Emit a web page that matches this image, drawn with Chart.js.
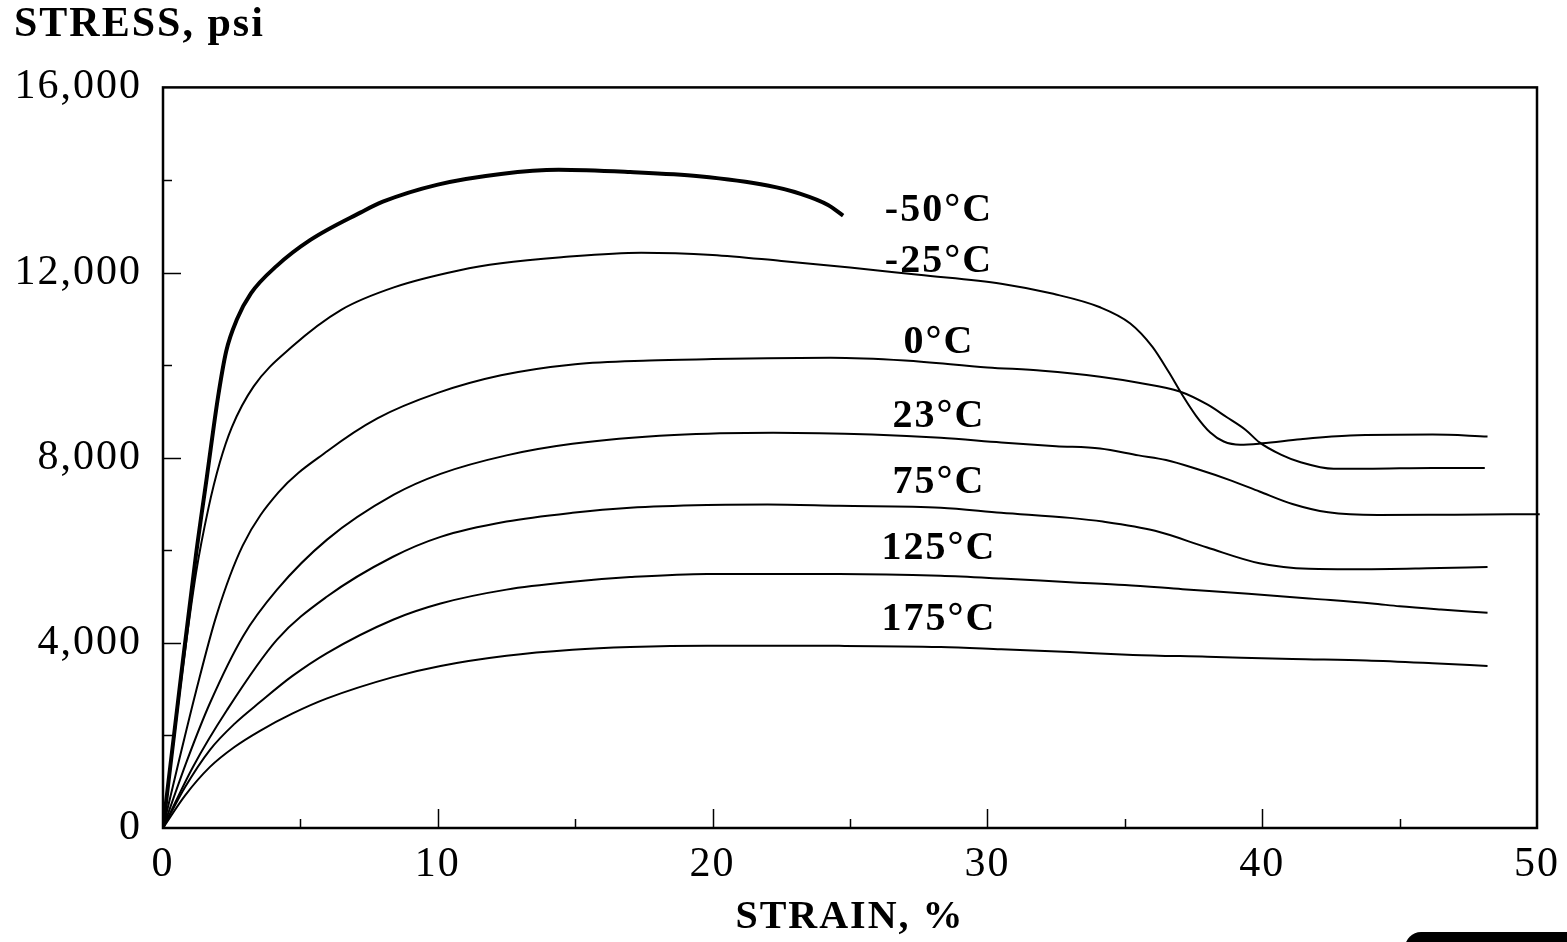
<!DOCTYPE html>
<html>
<head>
<meta charset="utf-8">
<script src="https://cdn.jsdelivr.net/npm/chart.js@4.4.1/dist/chart.umd.min.js"></script>
<style>
  body { margin: 0; background: #fff; }
  #wrap { position: relative; width: 1567px; height: 942px; overflow: hidden; }
  #tab { position: absolute; left: 1405px; top: 932px; width: 170px; height: 20px; background: #000; border-top-left-radius: 16px; }
</style>
</head>
<body>
<div id="wrap">
  <canvas id="chart" width="1567" height="942"></canvas>
  <div id="tab"></div>
</div>
<script>
// curve names
const temps = ["-50°C", "-25°C", "0°C", "23°C", "75°C", "125°C", "175°C"];

// strain (%) / stress (psi)
const strainM50 = [0, 0.6, 1.2, 1.6, 2.0, 2.3, 2.7, 3.2, 4.15, 5.35, 7.2, 8.0, 10, 12.3, 14.4, 17, 19.5, 22, 23.2, 24.2, 24.75];
const stressM50 = [0, 3000, 5900, 7600, 9300, 10300, 11000, 11550, 12150, 12700, 13300, 13530, 13900, 14130, 14220, 14170, 14080, 13880, 13700, 13460, 13230];

const strainM25 = [0, 0.6, 1.2, 1.65, 2.07, 2.5, 3.3, 4.7, 6.5, 8.4, 10.8, 12.3, 14.5, 17.4, 20, 22.5, 25, 27.5, 30.5, 32.4, 34.1, 35.2, 36.0, 36.6, 37.1, 37.6, 38.1, 38.6, 39.2, 40, 41.4, 43.2, 46.2, 48.2];
const stressM25 = [0, 2900, 5500, 6900, 7900, 8650, 9540, 10400, 11200, 11680, 12050, 12200, 12330, 12430, 12380, 12250, 12110, 11950, 11760, 11540, 11250, 10900, 10400, 9850, 9350, 8900, 8550, 8350, 8280, 8310, 8400, 8480, 8500, 8460];

const strain0 = [0, 0.6, 1.2, 1.95, 2.9, 4.2, 6.0, 7.8, 10, 12.3, 15, 17.7, 20, 22, 24.3, 27, 30, 32, 34.1, 35.5, 37, 38, 38.7, 39.4, 39.9, 40.7, 41.4, 42.6, 43.8, 46.2, 48.1];
const stress0 = [0, 1500, 2950, 4600, 6100, 7250, 8150, 8850, 9400, 9780, 10020, 10100, 10130, 10150, 10160, 10100, 9950, 9880, 9750, 9620, 9430, 9150, 8880, 8600, 8330, 8060, 7900, 7760, 7760, 7780, 7780];

const strain23 = [0, 0.87, 1.71, 2.92, 4.15, 5.97, 8.4, 10.1, 12.5, 14.9, 18.6, 22.2, 25.8, 28.3, 30.5, 32.5, 34.1, 35.5, 36.5, 37.6, 38.9, 39.9, 41.1, 42.4, 44.2, 47, 50.1];
const stress23 = [0, 1450, 2700, 4150, 5150, 6230, 7200, 7650, 8050, 8300, 8490, 8540, 8500, 8430, 8330, 8250, 8200, 8050, 7950, 7760, 7500, 7270, 7000, 6820, 6760, 6770, 6780];

const strain75 = [0, 1.09, 2.33, 4.15, 5.97, 8.37, 10.1, 12.5, 14.9, 17, 19.8, 22, 24.6, 28.3, 30.5, 33, 34.2, 36.1, 38, 39.9, 41.7, 43.6, 46, 48.2];
const stress75 = [0, 1320, 2550, 4070, 5000, 5860, 6290, 6620, 6810, 6920, 6980, 6990, 6960, 6920, 6810, 6700, 6620, 6420, 6060, 5720, 5600, 5590, 5610, 5640];

const strain125 = [0, 0.8, 1.71, 2.6, 3.53, 4.7, 5.97, 8.37, 10.1, 12.5, 14.9, 17, 19.8, 24.6, 28.3, 30.5, 33, 35, 37.1, 39.5, 41.9, 44, 45, 46.5, 48.2];
const stress125 = [0, 880, 1690, 2250, 2720, 3280, 3780, 4500, 4850, 5150, 5320, 5420, 5490, 5490, 5450, 5390, 5310, 5250, 5160, 5060, 4950, 4850, 4790, 4720, 4650];

const strain175 = [0, 0.8, 1.71, 2.6, 3.53, 4.7, 5.97, 8.37, 10.1, 12.5, 14.9, 17, 19.8, 24.6, 28.3, 30.5, 33, 35.3, 38, 41.1, 43.8, 46.2, 48.2];
const stress175 = [0, 700, 1320, 1750, 2100, 2470, 2800, 3260, 3500, 3720, 3850, 3910, 3940, 3935, 3910, 3860, 3800, 3740, 3700, 3650, 3620, 3560, 3500];

// where each curve name sits (strain, stress)
const labelStrain = [28.2, 28.2, 28.2, 28.2, 28.2, 28.2, 28.2];
const labelStress = [13340, 12240, 10490, 8890, 7460, 6030, 4500];

const serif = '"Liberation Serif", "Times New Roman", serif';

function pts(xs, ys) {
  return xs.map((x, i) => ({ x: x, y: ys[i] }));
}

const series = [
  [strainM50, stressM50], [strainM25, stressM25], [strain0, stress0],
  [strain23, stress23], [strain75, stress75], [strain125, stress125], [strain175, stress175]
];

const datasets = series.map((s, i) => ({
  label: temps[i],
  data: pts(s[0], s[1]),
  borderColor: "#000",
  borderWidth: i === 0 ? 4 : 2,
  pointRadius: 0,
  fill: false,
  cubicInterpolationMode: "monotone",
  clip: i === 3 ? 6 : 0
}));

// the old typeset look has loose letter spacing
const spacing = {
  id: "spacing",
  beforeDraw(chart) { chart.ctx.letterSpacing = "2px"; }
};

// inward tick marks + frame + curve names
const frame = {
  id: "frame",
  afterDatasetsDraw(chart) {
    const { ctx, chartArea: a, scales: { x, y } } = chart;
    ctx.save();
    ctx.strokeStyle = "#000";
    ctx.lineWidth = 1.5;
    y.ticks.forEach(t => {
      if (t.value <= 0 || t.value >= 16000) return;
      const len = t.value % 4000 === 0 ? 18 : 9;
      const py = Math.round(y.getPixelForValue(t.value)) + 0.5;
      ctx.beginPath(); ctx.moveTo(a.left, py); ctx.lineTo(a.left + len, py); ctx.stroke();
    });
    x.ticks.forEach(t => {
      if (t.value <= 0 || t.value >= 50) return;
      const len = t.value % 10 === 0 ? 19 : 9;
      const px = Math.round(x.getPixelForValue(t.value)) + 0.5;
      ctx.beginPath(); ctx.moveTo(px, a.bottom); ctx.lineTo(px, a.bottom - len); ctx.stroke();
    });
    ctx.lineWidth = 2.5;
    ctx.strokeRect(a.left, a.top, a.right - a.left, a.bottom - a.top);

    ctx.fillStyle = "#000";
    ctx.font = "bold 40px " + serif;
    ctx.textAlign = "center";
    ctx.textBaseline = "middle";
    temps.forEach((t, i) => {
      ctx.fillText(t, x.getPixelForValue(labelStrain[i]) + 1, y.getPixelForValue(labelStress[i]));
    });
    ctx.restore();
  }
};

new Chart(document.getElementById("chart"), {
  type: "line",
  data: { datasets: datasets },
  options: {
    responsive: false,
    animation: false,
    events: [],
    layout: { padding: { left: 14, right: 30, top: 0, bottom: 0 } },
    plugins: {
      legend: { display: false },
      tooltip: { enabled: false },
      title: {
        display: true,
        text: "STRESS, psi",
        align: "start",
        color: "#000",
        font: { family: serif, size: 42, weight: "bold" },
        padding: { top: 0, bottom: 37 }
      }
    },
    scales: {
      x: {
        type: "linear",
        min: 0,
        max: 50,
        grid: { display: false, drawTicks: false },
        border: { display: false },
        ticks: {
          stepSize: 5,
          color: "#000",
          font: { family: serif, size: 42 },
          padding: 12,
          maxRotation: 0,
          autoSkip: false,
          callback: v => (v % 10 === 0 ? String(v) : "")
        },
        title: {
          display: true,
          text: "STRAIN, %",
          color: "#000",
          font: { family: serif, size: 40, weight: "bold" },
          padding: { top: 0, bottom: 0 }
        },
        afterFit: s => { s.height = 114; s.paddingLeft = 0; s.paddingRight = 0; }
      },
      y: {
        min: 0,
        max: 16000,
        grid: { display: false, drawTicks: false },
        border: { display: false },
        ticks: {
          stepSize: 2000,
          color: "#000",
          font: { family: serif, size: 42 },
          padding: 21,
          autoSkip: false,
          callback: v => (v % 4000 === 0 ? v.toLocaleString("en-US") : "")
        },
        afterFit: s => { s.width = 149; }
      }
    }
  },
  plugins: [spacing, frame]
});
</script>
</body>
</html>
